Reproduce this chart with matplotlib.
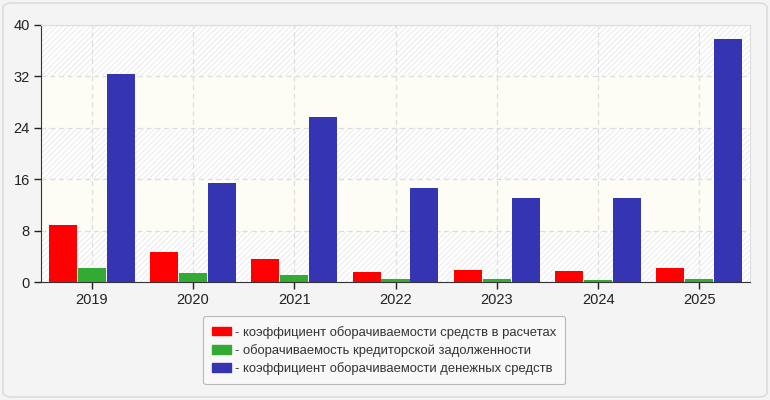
import matplotlib
matplotlib.use('Agg')
import matplotlib.pyplot as plt
import numpy as np
from matplotlib.patches import FancyBboxPatch, Patch

years = ['2019', '2020', '2021', '2022', '2023', '2024', '2025']
settlements = [8.9, 4.7, 3.6, 1.6, 1.9, 1.7, 2.2]
payables = [2.2, 1.4, 1.1, 0.5, 0.5, 0.3, 0.5]
cash = [32.4, 15.4, 25.7, 14.6, 13.1, 13.1, 37.8]
labels = ['- коэффициент оборачиваемости средств в расчетах',
          '- оборачиваемость кредиторской задолженности',
          '- коэффициент оборачиваемости денежных средств']
colors = ['#ff0000', '#33aa33', '#3535b3']
yticks = [0, 8, 16, 24, 32, 40]

plt.rcParams['font.family'] = ['Liberation Sans', 'DejaVu Sans']
plt.rcParams['hatch.linewidth'] = 0.6
plt.rcParams['hatch.color'] = '#e6e6e6'

fig = plt.figure(figsize=(7.7, 4), dpi=100)
fig.patch.set_facecolor('#f4f4f4')
fig.patches.append(FancyBboxPatch((3 / 770, 3 / 400), 764 / 770, 394 / 400,
                                  boxstyle='round,pad=0,rounding_size=0.012',
                                  transform=fig.transFigure, facecolor='#f4f4f4',
                                  edgecolor='#dddddd', linewidth=1.2, zorder=-10))

ax = fig.add_axes([41 / 770, 118 / 400, 709 / 770, 257 / 400])
ax.set_facecolor('white')

# alternating bands
for i in range(len(yticks) - 1):
    if i % 2 == 0:
        ax.axhspan(yticks[i], yticks[i + 1], facecolor='white', edgecolor='#e6e6e6',
                   hatch='//////', linewidth=0, zorder=0)
    else:
        ax.axhspan(yticks[i], yticks[i + 1], facecolor='#fdfdf6', linewidth=0, zorder=0)

x = np.arange(len(years))
w = 0.277
off = 0.286
for vals, dx, c in zip([settlements, payables, cash], [-off, 0, off], colors):
    ax.bar(x + dx, vals, width=w, color=c, zorder=3)

ax.set_xlim(-0.5, len(years) - 0.5)
ax.set_ylim(0, 40)
ax.set_yticks(yticks)
ax.set_xticks(x)
ax.set_xticklabels(years)
ax.grid(True, color='#dddddd', linestyle=(0, (4, 3)), linewidth=0.9, zorder=1)
ax.set_axisbelow(True)
ax.tick_params(axis='both', labelsize=10.5, colors='#222222', length=5, width=1)
ax.tick_params(axis='y', pad=3)
ax.tick_params(axis='x', pad=3)
for s in ['top', 'right']:
    ax.spines[s].set_color('#dddddd')
for s in ['left', 'bottom']:
    ax.spines[s].set_color('#333333')

handles = [Patch(facecolor=c, edgecolor=c) for c in colors]
leg = fig.legend(handles, labels, loc='upper center', bbox_to_anchor=(0.499, 0.225),
                 fontsize=9.35, frameon=True, fancybox=True, handlelength=1.45,
                 handleheight=0.65, handletextpad=0.3, labelspacing=0.42,
                 borderpad=0.7, labelcolor='#333333')
leg.get_frame().set_facecolor('#fafafa')
leg.get_frame().set_edgecolor('#aaaaaa')
leg.get_frame().set_linewidth(0.8)

fig.savefig('out.png', dpi=100, facecolor=fig.get_facecolor())
